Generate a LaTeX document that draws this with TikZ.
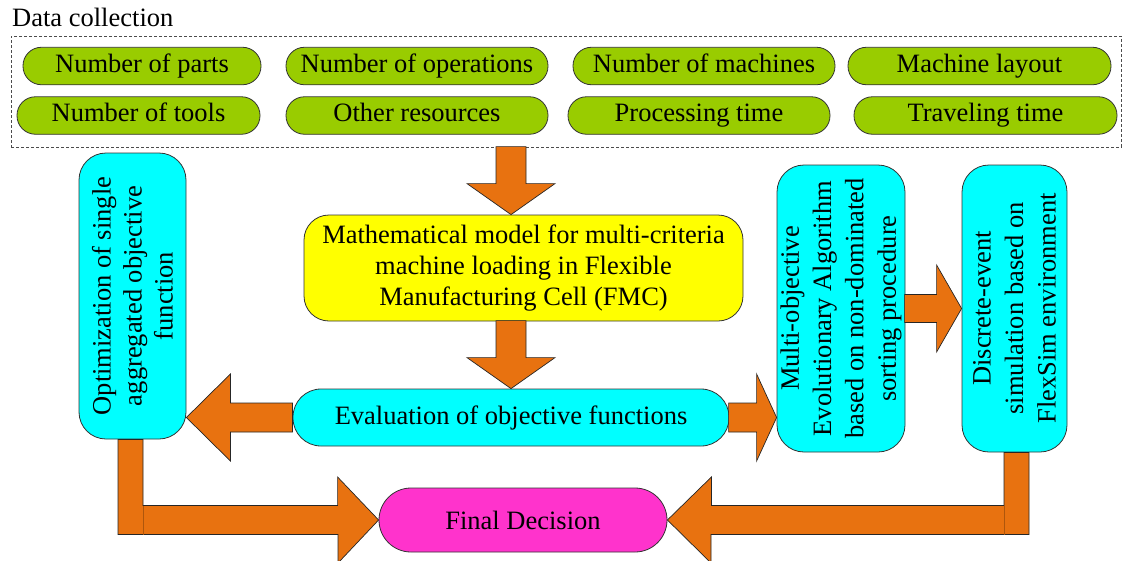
\documentclass[tikz,border=0pt]{standalone}
\usepackage{fontspec}
\newfontfamily\diagserif{Liberation Serif}
\definecolor{pillgreen}{HTML}{99CC00}
\definecolor{boxcyan}{HTML}{00FFFF}
\definecolor{boxyellow}{HTML}{FFFF00}
\definecolor{boxmagenta}{HTML}{FF33CC}
\definecolor{arroworange}{HTML}{E87210}
\definecolor{edgegray}{HTML}{333333}
\begin{document}
\begin{tikzpicture}[x=1pt,y=-1pt,
  every node/.style={font=\diagserif\fontsize{26.5}{31}\selectfont},
  pill/.style={draw=edgegray,line width=0.8pt,fill=pillgreen,rounded corners=18.5pt,minimum height=37.5pt,inner sep=0pt,text height=18pt,text depth=5.5pt},
  cbox/.style={draw=edgegray,line width=0.8pt,fill=boxcyan,rounded corners=27pt,inner sep=0pt},
  vtext/.style={rotate=90,align=center,inner sep=0pt},
  barrow/.style={draw=black!85,line width=0.7pt,fill=arroworange,line join=miter},
  seam/.style={draw=arroworange!75!black,line width=0.5pt}]
\useasboundingbox (0,0) rectangle (1123,560);

% data collection frame
\node[anchor=base west,inner sep=0pt] (dctitle) at (12,26) {Data collection};
\node[draw=black!70,dashed,dash pattern=on 3pt off 2pt,line width=0.7pt,minimum width=1110pt,minimum height=111pt,inner sep=0pt] (dc) at (566,91.5) {};

\node[pill,minimum width=238pt] (p1) at (142,66) {Number of parts};
\node[pill,minimum width=262pt] (p2) at (417,66) {Number of operations};
\node[pill,minimum width=262pt] (p3) at (704,66) {Number of machines};
\node[pill,minimum width=263pt] (p4) at (979.5,66) {Machine layout};
\node[pill,minimum width=243pt] (p5) at (138.5,115.5) {Number of tools};
\node[pill,minimum width=262pt] (p6) at (417,115.5) {Other resources};
\node[pill,minimum width=262pt] (p7) at (699,115.5) {Processing time};
\node[pill,minimum width=263pt] (p8) at (985.5,115.5) {Traveling time};

% main boxes
\node[draw=edgegray,line width=0.8pt,fill=boxyellow,rounded corners=25pt,minimum width=439pt,minimum height=106pt,inner sep=0pt,align=center] (model) at (523.5,268)
  {Mathematical model for multi-criteria\\machine loading in Flexible\\Manufacturing Cell (FMC)};
\node[cbox,rounded corners=28pt,minimum width=436pt,minimum height=57pt] (eval) at (511,417.5) {Evaluation of objective functions};
\node[cbox,minimum width=107pt,minimum height=286pt] (opt) at (132.5,296) {};
\node[vtext] (optlabel) at (opt.center) {Optimization of single\\aggregated objective\\function};
\node[cbox,minimum width=128pt,minimum height=287pt] (moea) at (841,308.5) {};
\node[vtext,font=\diagserif\fontsize{26.5}{32.3}\selectfont] (moealabel) at (moea.center) {Multi-objective\\Evolutionary Algorithm\\based on non-dominated\\sorting procedure};
\node[cbox,minimum width=105pt,minimum height=287pt] (des) at (1014.5,308.5) {};
\node[vtext,font=\diagserif\fontsize{26.5}{32.5}\selectfont] (deslabel) at (des.center) {Discrete-event\\simulation based on\\FlexSim environment};
\node[draw=edgegray,line width=0.8pt,fill=boxmagenta,rounded corners=32pt,minimum width=288pt,minimum height=64pt,inner sep=0pt] (final) at (523,520) {Final Decision};

% helper coordinates for the L-shaped bars
\coordinate (lbarR) at (143,0);
\coordinate (lbarL) at (118,0);
\coordinate (rbarL) at (1004,0);
\coordinate (rbarR) at (1029,0);

% block arrows
\coordinate (t1) at (eval.center |- model.north);
\draw[barrow] (t1) -- ++(44,-31) -- ++(-29,0) -- ++(0,-37) -- ++(-30,0) -- ++(0,37) -- ++(-29,0) -- cycle;
\coordinate (t2) at (eval.north);
\draw[barrow] (t2) -- ++(44,-31) -- ++(-29,0) -- ++(0,-37) -- ++(-30,0) -- ++(0,37) -- ++(-29,0) -- cycle;
\coordinate (t3) at (opt.east |- eval.west);
\draw[barrow] (t3) -- ++(44,-43.5) -- ++(0,29) -- ++(62,0) -- ++(0,29) -- ++(-62,0) -- ++(0,29) -- cycle;
\coordinate (t4) at (moea.west |- eval.east);
\draw[barrow] (t4) -- ++(-20,-43.5) -- ++(0,29) -- ++(-28,0) -- ++(0,29) -- ++(28,0) -- ++(0,29) -- cycle;
\coordinate (t5) at (des.west);
\draw[barrow] (t5) -- ++(-25,-43.5) -- ++(0,29.5) -- ++(-32,0) -- ++(0,28) -- ++(32,0) -- ++(0,29.5) -- cycle;
\coordinate (t6) at (final.west);
\draw[barrow] (t6) -- ++(-41,-43) -- ++(0,28.5) -- (143,505.5) -- (lbarR |- opt.south) -- (lbarL |- opt.south) -- (118,534.5) -- (338,534.5) -- ++(0,28.5) -- cycle;
\draw[seam] (143,505.5) -- (143,534.5);
\coordinate (t7) at (final.east);
\draw[barrow] (t7) -- ++(44,-43) -- ++(0,28.5) -- (1004,505.5) -- (rbarL |- des.south) -- (rbarR |- des.south) -- (1029,534.5) -- (711,534.5) -- ++(0,28.5) -- cycle;
\draw[seam] (1004,505.5) -- (1004,534.5);
\end{tikzpicture}
\end{document}
